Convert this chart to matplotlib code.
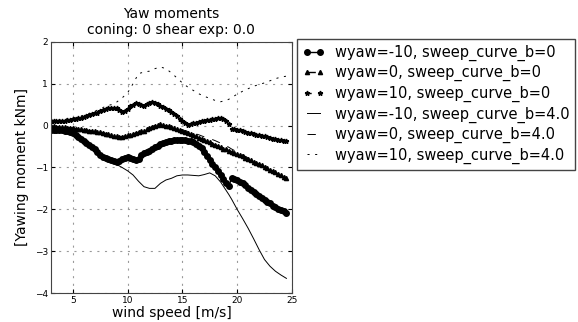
import numpy as np
import matplotlib.pyplot as plt

# motifs de tirets "classiques"
plt.rcParams['lines.scale_dashes'] = False
plt.rcParams['lines.dashed_pattern'] = [6, 6]
plt.rcParams['lines.dashdot_pattern'] = [3, 5, 1, 5]
plt.rcParams['lines.dotted_pattern'] = [1.5, 4]

# vitesses de vent [m/s] : pas fin pour sweep_curve_b=0, plus large pour b=4.0
vent_fin = np.arange(3.0, 24.51, 0.25)
vent = [3.0, 3.5, 4.0, 4.5, 5.0, 5.5, 6.0, 6.5, 7.0, 7.5, 8.0, 8.5, 9.0, 9.5,
        10.0, 10.5, 11.0, 11.5, 12.0, 12.5, 13.0, 13.5, 14.0, 14.5, 15.0, 15.5,
        16.0, 16.5, 17.0, 17.5, 18.0, 18.5, 19.0, 19.25, 19.5, 20.0, 20.5, 21.0,
        21.5, 22.0, 22.5, 23.0, 23.5, 24.0, 24.5]

# moments de lacet [kNm], sweep_curve_b=0
m_m10_b0 = [-0.10, -0.10, -0.10, -0.10, -0.11, -0.12, -0.13, -0.15, -0.18, -0.22,
            -0.27, -0.32, -0.38, -0.42, -0.47, -0.52, -0.57, -0.64, -0.70, -0.75,
            -0.78, -0.81, -0.83, -0.85, -0.86, -0.84, -0.80, -0.77, -0.75, -0.77,
            -0.80, -0.83, -0.80, -0.70, -0.66, -0.63, -0.60, -0.55, -0.52, -0.48,
            -0.45, -0.42, -0.40, -0.38, -0.36, -0.35, -0.34, -0.34, -0.34, -0.35,
            -0.36, -0.38, -0.40, -0.44, -0.48, -0.54, -0.62, -0.72, -0.82, -0.91,
            -1.00, -1.09, -1.18, -1.27, -1.36, -1.45, -1.25, -1.27, -1.30, -1.34,
            -1.38, -1.43, -1.48, -1.53, -1.58, -1.63, -1.68, -1.73, -1.77, -1.82,
            -1.86, -1.91, -1.95, -1.99, -2.02, -2.05, -2.08]
m_0_b0 = [-0.02, -0.02, -0.03, -0.03, -0.04, -0.04, -0.05, -0.05, -0.06, -0.07,
          -0.08, -0.09, -0.10, -0.11, -0.12, -0.13, -0.14, -0.15, -0.16, -0.17,
          -0.19, -0.20, -0.22, -0.24, -0.26, -0.27, -0.27, -0.25, -0.23, -0.22,
          -0.20, -0.18, -0.16, -0.14, -0.12, -0.09, -0.06, -0.03, 0.00, 0.02,
          0.03, 0.01, -0.01, -0.02, -0.03, -0.05, -0.07, -0.10, -0.13, -0.15,
          -0.18, -0.20, -0.23, -0.26, -0.29, -0.31, -0.34, -0.37, -0.40, -0.43,
          -0.46, -0.49, -0.52, -0.55, -0.57, -0.60, -0.63, -0.65, -0.68, -0.70,
          -0.73, -0.77, -0.80, -0.83, -0.86, -0.89, -0.92, -0.95, -0.98, -1.02,
          -1.05, -1.09, -1.12, -1.16, -1.19, -1.23, -1.26]
m_10_b0 = [0.12, 0.12, 0.12, 0.12, 0.12, 0.12, 0.13, 0.14, 0.15, 0.16,
           0.18, 0.19, 0.21, 0.23, 0.25, 0.27, 0.29, 0.31, 0.34, 0.37,
           0.39, 0.41, 0.42, 0.43, 0.43, 0.38, 0.33, 0.36, 0.40, 0.46,
           0.50, 0.53, 0.52, 0.49, 0.47, 0.51, 0.55, 0.57, 0.55, 0.51,
           0.47, 0.44, 0.40, 0.37, 0.33, 0.28, 0.22, 0.16, 0.10, 0.05,
           0.02, 0.03, 0.05, 0.07, 0.09, 0.11, 0.12, 0.13, 0.14, 0.15,
           0.16, 0.17, 0.17, 0.16, 0.12, 0.04, -0.07, -0.08, -0.10, -0.11,
           -0.13, -0.15, -0.17, -0.18, -0.20, -0.22, -0.23, -0.25, -0.26, -0.28,
           -0.29, -0.31, -0.32, -0.34, -0.35, -0.36, -0.37]

# moments de lacet [kNm], sweep_curve_b=4.0
m_m10_b4 = [-0.12, -0.12, -0.13, -0.15, -0.20, -0.29, -0.40, -0.49, -0.59, -0.72,
            -0.80, -0.86, -0.93, -1.00, -1.08, -1.18, -1.33, -1.46, -1.50, -1.50,
            -1.38, -1.30, -1.26, -1.20, -1.18, -1.18, -1.19, -1.20, -1.17, -1.13,
            -1.20, -1.35, -1.55, -1.65, -1.76, -2.00, -2.22, -2.45, -2.70, -2.96,
            -3.20, -3.36, -3.48, -3.57, -3.65]
m_0_b4 = [-0.02, -0.03, -0.04, -0.05, -0.06, -0.08, -0.10, -0.12, -0.14, -0.16,
          -0.19, -0.22, -0.26, -0.27, -0.23, -0.20, -0.16, -0.12, -0.06, 0.00,
          0.03, -0.01, -0.03, -0.07, -0.10, -0.14, -0.18, -0.22, -0.27, -0.31,
          -0.36, -0.42, -0.48, -0.52, -0.56, -0.63, -0.70, -0.77, -0.88, -0.95,
          -1.01, -1.08, -1.15, -1.22, -1.29]
m_10_b4 = [0.12, 0.13, 0.14, 0.16, 0.18, 0.21, 0.25, 0.29, 0.34, 0.40,
           0.46, 0.50, 0.56, 0.66, 0.78, 1.00, 1.24, 1.28, 1.30, 1.36,
           1.40, 1.36, 1.26, 1.14, 1.02, 0.92, 0.84, 0.76, 0.70, 0.65,
           0.60, 0.57, 0.60, 0.63, 0.67, 0.75, 0.82, 0.88, 0.94, 0.98,
           1.02, 1.07, 1.12, 1.16, 1.18]

courbes = [
    (vent_fin, m_m10_b0, '-o', 'wyaw=-10, sweep_curve_b=0', dict(lw=1.0, ms=4)),
    (vent_fin, m_0_b0, '--^', 'wyaw=0, sweep_curve_b=0', dict(lw=1.0, ms=3)),
    (vent_fin, m_10_b0, '-.*', 'wyaw=10, sweep_curve_b=0', dict(lw=1.0, ms=3.5)),
    (vent, m_m10_b4, '-', 'wyaw=-10, sweep_curve_b=4.0', dict(lw=0.7)),
    (vent, m_0_b4, '--', 'wyaw=0, sweep_curve_b=4.0', dict(lw=0.7)),
    (vent, m_10_b4, ':', 'wyaw=10, sweep_curve_b=4.0', dict(lw=0.7)),
]

fig = plt.figure(figsize=(5.78, 3.22), dpi=100)
ax = fig.add_axes([0.088, 0.090, 0.417, 0.780])
for x, y, style, nom, kw in courbes:
    ax.plot(x, y, style, color='k', label=nom, **kw)

ax.set_xlim(3, 25)
ax.set_ylim(-4, 2)
ax.set_xticks([5, 10, 15, 20, 25])
ax.set_yticks([-4, -3, -2, -1, 0, 1, 2])
ax.tick_params(direction='in', top=True, right=True, labelsize=6.5, length=3, pad=2)
ax.grid(True, color='#999999', linestyle=':', linewidth=0.8)
ax.set_title('Yaw moments\nconing: 0 shear exp: 0.0', fontsize=10, linespacing=1.1)
ax.set_xlabel('wind speed [m/s]', fontsize=10, labelpad=1)
ax.set_ylabel('[Yawing moment kNm]', fontsize=10, labelpad=4)
for s in ax.spines.values():
    s.set_color('#444444')

leg = ax.legend(loc='upper left', bbox_to_anchor=(1.02, 1.012), numpoints=2,
                fontsize=10.5, fancybox=False, framealpha=1, borderaxespad=0,
                handlelength=1.5, handletextpad=0.7, labelspacing=0.3)
leg.get_frame().set_edgecolor('#444444')

fig.savefig('out.png', dpi=100)
